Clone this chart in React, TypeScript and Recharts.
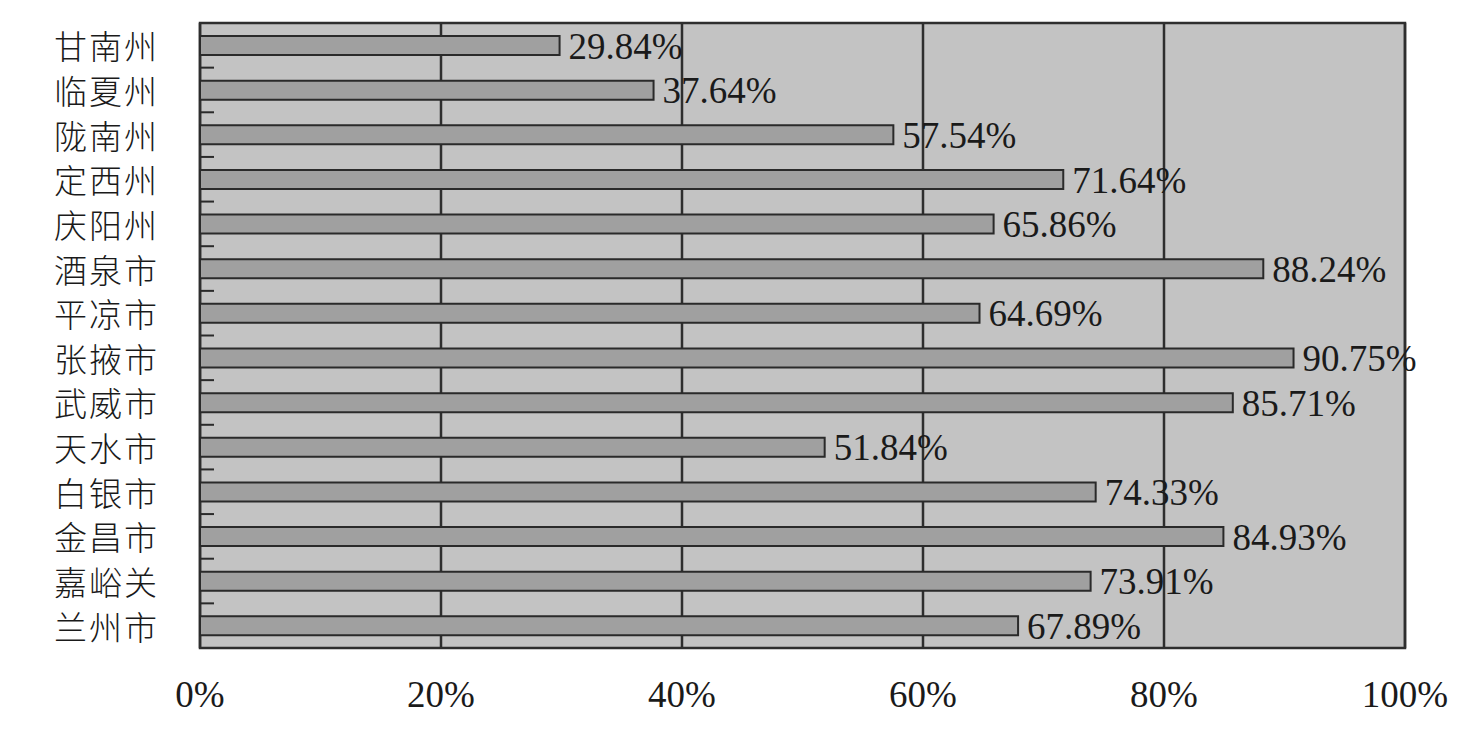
import React from 'react';
import { BarChart, Bar, XAxis, YAxis, CartesianGrid, LabelList, ReferenceArea } from 'recharts';

const regions = ['甘南州', '临夏州', '陇南州', '定西州', '庆阳州', '酒泉市', '平凉市', '张掖市', '武威市', '天水市', '白银市', '金昌市', '嘉峪关', '兰州市'];
const rates = [29.84, 37.64, 57.54, 71.64, 65.86, 88.24, 64.69, 90.75, 85.71, 51.84, 74.33, 84.93, 73.91, 67.89];
const xTicks = [0, 20, 40, 60, 80, 100];

const data = regions.map((name, i) => ({ name, value: rates[i] }));

const W = 1464;
const H = 714;
const MARGIN = { top: 15, right: 67, bottom: 14, left: 0 };
const Y_WIDTH = 192;
const X_HEIGHT = 60;
const TICK_MARGIN = 43;
const BAND_HALF = (H - MARGIN.top - MARGIN.bottom - X_HEIGHT) / regions.length / 2;

const YTick = (props: any) => {
  const { x, y, payload, index } = props;
  const isLast = index === regions.length - 1;
  return (
    <g>
      <text
        x={x + 2}
        y={y + 14}
        textAnchor="end"
        fontFamily="'Noto Sans CJK SC', sans-serif"
        fontWeight={300}
        fontSize={33}
        letterSpacing={2}
        fill="#1a1a1a"
      >
        {payload.value}
      </text>
      {!isLast && (
        <line
          x1={x + TICK_MARGIN}
          x2={x + TICK_MARGIN + 14}
          y1={y + BAND_HALF}
          y2={y + BAND_HALF}
          stroke="#2a2a2a"
          strokeWidth={2}
        />
      )}
    </g>
  );
};

export default function App() {
  return (
    <BarChart width={W} height={H} data={data} layout="vertical" margin={MARGIN} barCategoryGap={0}>
      <CartesianGrid horizontal={false} vertical={true} fill="#c3c3c3" stroke="#2e2e2e" strokeWidth={2.5} />
      <XAxis
        type="number"
        domain={[0, 100]}
        ticks={xTicks}
        height={X_HEIGHT}
        axisLine={false}
        tickLine={false}
        tickSize={0}
        tickMargin={33}
        tickFormatter={(v: number) => `${v}%`}
        tick={{ fontFamily: "'Liberation Serif', serif", fontSize: 37, fill: '#1a1a1a' }}
      />
      <YAxis
        type="category"
        dataKey="name"
        width={Y_WIDTH}
        axisLine={false}
        tickLine={false}
        tickSize={0}
        tickMargin={TICK_MARGIN}
        interval={0}
        tick={<YTick />}
      />
      <ReferenceArea x1={0} x2={100} fill="none" stroke="#2e2e2e" strokeWidth={2.5} ifOverflow="visible" />
      <Bar dataKey="value" barSize={19} fill="#a0a0a0" stroke="#2a2a2a" strokeWidth={2} isAnimationActive={false}>
        <LabelList
          dataKey="value"
          position="right"
          offset={9}
          formatter={(v: number) => `${v.toFixed(2)}%`}
          style={{ fontFamily: "'Liberation Serif', serif", fontSize: 37, fill: '#1a1a1a' }}
        />
      </Bar>
    </BarChart>
  );
}
